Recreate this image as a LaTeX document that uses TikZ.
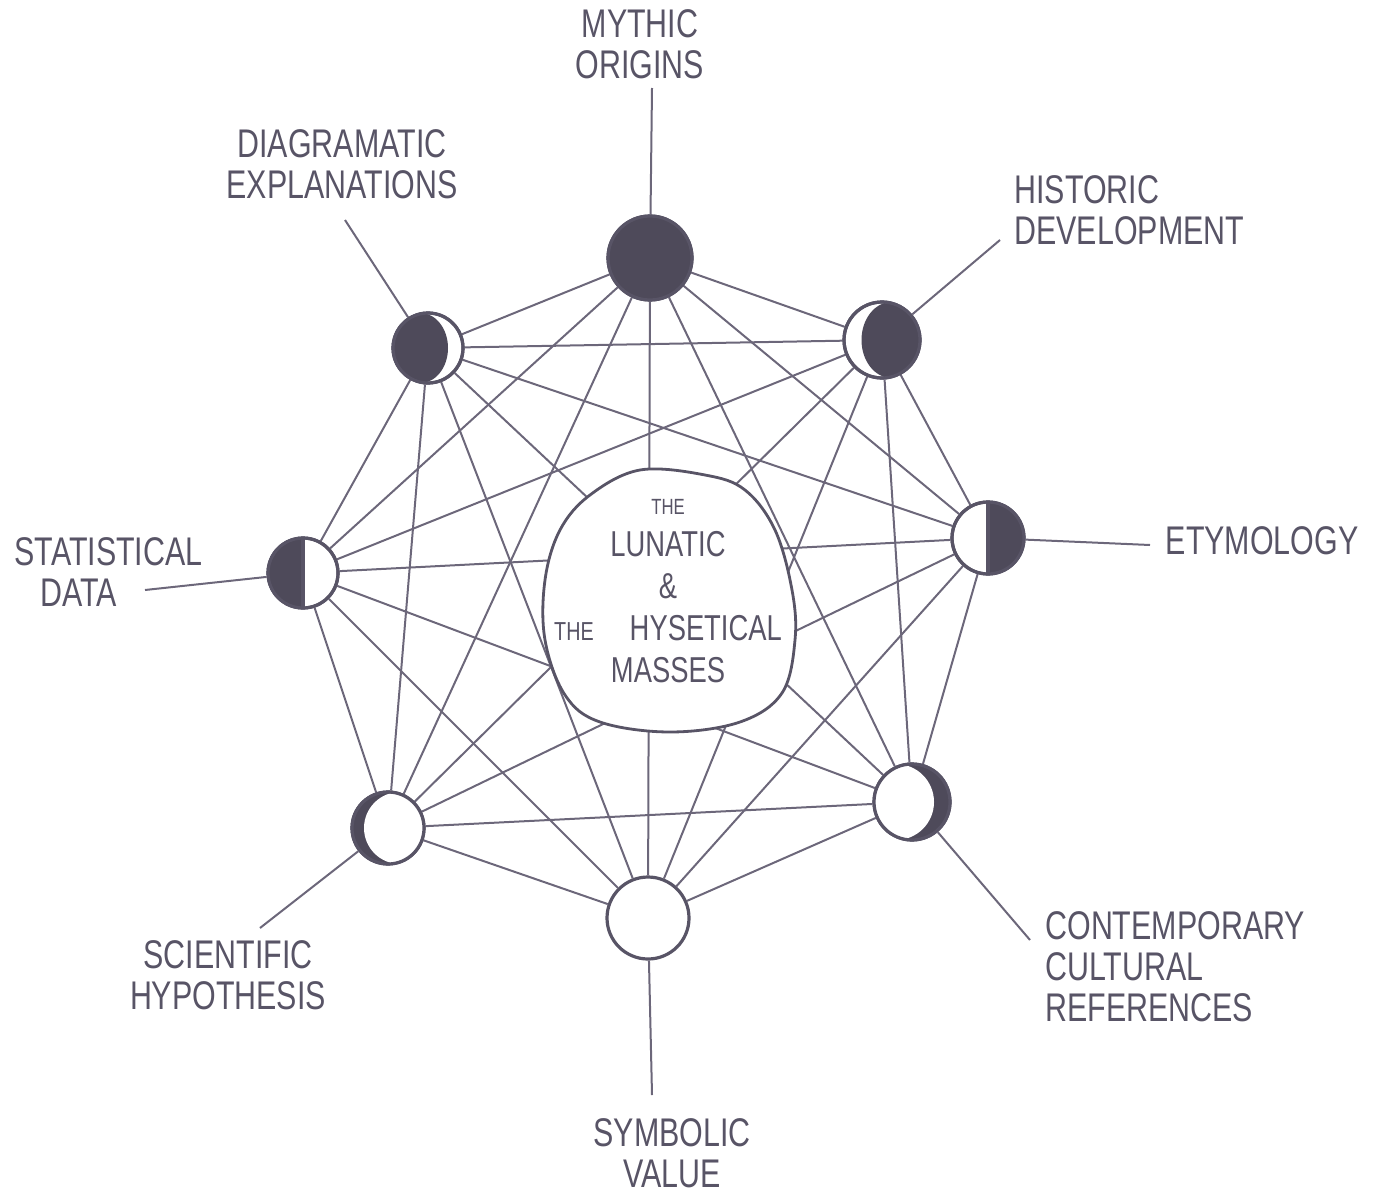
\documentclass[tikz,border=0pt]{standalone}
\usepackage{fontspec}
\usetikzlibrary{backgrounds}
\newfontfamily\handfont[FakeStretch=0.76]{Liberation Sans}
\definecolor{ink}{RGB}{88,84,102}
\definecolor{linkcol}{RGB}{108,103,122}
\definecolor{moondark}{RGB}{78,74,90}

\begin{document}
\begin{tikzpicture}[
    x=0.5pt, y=-0.5pt,
    moon/.style={circle, inner sep=0pt, fill=white, draw=ink, line width=1.6pt},
    ring/.style={draw=ink, line width=1.6pt},
    darkside/.style={fill=moondark},
    link/.style={draw=linkcol, line width=1pt},
    lab/.style={font=\handfont\fontsize{20}{20.5}\selectfont, text=ink, inner sep=1pt},
]
\useasboundingbox (0,0) rectangle (1385,1198);

% centre blob
\draw[ink, line width=1.4pt, fill=white] plot[smooth cycle, tension=0.6] coordinates {
  (640,470) (705,475) (745,490) (775,530) (792,590) (795,640) (782,693) (740,722)
  (670,732) (600,722) (565,695) (545,640) (545,580) (560,530) (590,495)};
\node[font=\handfont\fontsize{18}{21}\selectfont, text=ink, align=center] (hub) at (668,591)
  {{\fontsize{11}{21}\selectfont THE}\\LUNATIC\\\&\\{\fontsize{13}{21}\selectfont THE}\quad HYSETICAL\\MASSES};

% moons
\node[moon, minimum size=42pt] (myth) at (650,258) {};
\node[moon, minimum size=38pt] (hist) at (882,340) {};
\node[moon, minimum size=36pt] (etym) at (988,538) {};
\node[moon, minimum size=38pt] (cont) at (912,802) {};
\node[moon, minimum size=41pt] (symb) at (648,918) {};
\node[moon, minimum size=36pt] (sci) at (388,828) {};
\node[moon, minimum size=35pt] (stat) at (303,573) {};
\node[moon, minimum size=35pt] (diag) at (428,348) {};

\fill[darkside] (myth.center) circle (21pt);
\draw[ring] (myth.center) circle (21pt);

\begin{scope}
\clip (hist.center) circle (19pt);
\fill[darkside] ([xshift=4.75pt]hist.center) ellipse (15pt and 19pt);
\end{scope}
\draw[ring] (hist.center) circle (19pt);

\begin{scope}
\clip (etym.center) circle (18pt);
\fill[darkside] ([yshift=20pt]etym.center) rectangle ([shift={(20pt,-20pt)}]etym.center);
\end{scope}
\draw[ring] (etym.center) circle (18pt);
\draw[ring] ([yshift=18pt]etym.center) -- ([yshift=-18pt]etym.center);

\begin{scope}
\clip (cont.center) circle (19pt);
\fill[darkside] (cont.center) circle (19pt);
\fill[white] ([xshift=-8pt]cont.center) circle (19pt);
\end{scope}
\draw[ring] (cont.center) circle (19pt);

\begin{scope}
\clip (sci.center) circle (18pt);
\fill[darkside] (sci.center) circle (18pt);
\fill[white] ([xshift=6pt]sci.center) circle (18pt);
\end{scope}
\draw[ring] (sci.center) circle (18pt);

\begin{scope}
\clip (stat.center) circle (17.5pt);
\fill[darkside] ([yshift=20pt]stat.center) rectangle ([shift={(-20pt,-20pt)}]stat.center);
\end{scope}
\draw[ring] (stat.center) circle (17.5pt);
\draw[ring] ([yshift=17.5pt]stat.center) -- ([yshift=-17.5pt]stat.center);

\begin{scope}
\clip (diag.center) circle (17.5pt);
\fill[darkside] ([xshift=-3.75pt]diag.center) ellipse (13.75pt and 17.5pt);
\end{scope}
\draw[ring] (diag.center) circle (17.5pt);

% every moon linked to every other
\begin{scope}[on background layer]
\draw[link] (myth) -- (hist) (myth) -- (etym) (myth) -- (cont) (myth) -- (symb)
            (myth) -- (sci) (myth) -- (stat) (myth) -- (diag);
\draw[link] (hist) -- (etym) (hist) -- (cont) (hist) -- (symb) (hist) -- (sci)
            (hist) -- (stat) (hist) -- (diag);
\draw[link] (etym) -- (cont) (etym) -- (symb) (etym) -- (sci) (etym) -- (stat)
            (etym) -- (diag);
\draw[link] (cont) -- (symb) (cont) -- (sci) (cont) -- (stat) (cont) -- (diag);
\draw[link] (symb) -- (sci) (symb) -- (stat) (symb) -- (diag);
\draw[link] (sci) -- (stat) (sci) -- (diag);
\draw[link] (stat) -- (diag);
\end{scope}

% labels
\node[lab, align=center] (mythlab) at (640,44) {MYTHIC\\ORIGINS};
\node[lab, align=center] (diaglab) at (342,164) {DIAGRAMATIC\\EXPLANATIONS};
\node[lab, align=left, anchor=west] (histlab) at (1012,210) {HISTORIC\\DEVELOPMENT};
\node[lab] (etymlab) at (1262,541) {ETYMOLOGY};
\node[lab, align=left, anchor=west] (statlab) at (12,572) {STATISTICAL\\\hspace{13pt}DATA};
\node[lab, align=center] (scilab) at (228,975) {SCIENTIFIC\\HYPOTHESIS};
\node[lab, align=left, anchor=west] (contlab) at (1043,967) {CONTEMPORARY\\CULTURAL\\REFERENCES};
\node[lab, align=center] (symblab) at (672,1153) {SYMBOLIC\\VALUE};

\coordinate (mythend) at (652,88);
\coordinate (diagend) at (345,220);
\coordinate (histend) at (1000,240);
\coordinate (etymend) at (1150,545);
\coordinate (statend) at (145,590);
\coordinate (sciend) at (260,928);
\coordinate (contend) at (1030,940);
\coordinate (symbend) at (652,1095);

\draw[link] (myth) -- (mythend);
\draw[link] (diag) -- (diagend);
\draw[link] (hist) -- (histend);
\draw[link] (etym) -- (etymend);
\draw[link] (stat) -- (statend);
\draw[link] (sci) -- (sciend);
\draw[link] (cont) -- (contend);
\draw[link] (symb) -- (symbend);
\end{tikzpicture}
\end{document}
